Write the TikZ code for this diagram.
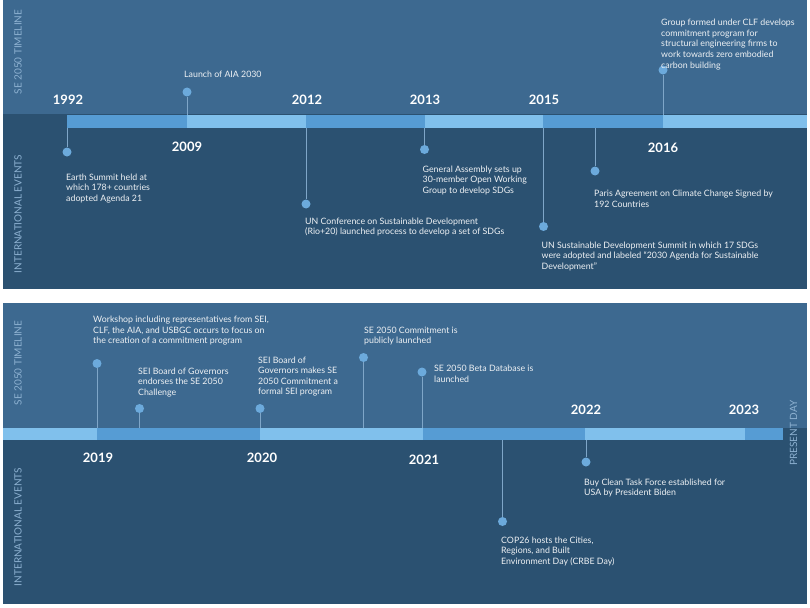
\documentclass[tikz,border=0pt]{standalone}
\usepackage{fontspec}
\setmainfont{Lato}

% panel and bar colours
\definecolor{upperblue}{HTML}{3D6990}
\definecolor{lowerblue}{HTML}{2B5171}
\definecolor{barlight}{HTML}{80C0EC}
\definecolor{barmid}{HTML}{569CD4}
\definecolor{dotblue}{HTML}{6CAADC}
\definecolor{stemblue}{HTML}{7FA6C8}
\definecolor{sidegrey}{HTML}{8DB1D1}
\definecolor{eventwhite}{HTML}{EEF1F4}

\begin{document}
\begin{tikzpicture}[x=1pt, y=-1pt,
    dot/.style={circle, fill=dotblue, inner sep=0pt, minimum size=9pt},
    stem/.style={draw=stemblue, line width=0.6pt},
    event/.style={anchor=north west, inner sep=0pt, align=left, text=eventwhite,
        font=\fontsize{8.8}{10.6}\selectfont},
    year/.style={inner sep=0pt, text=white, font=\fontsize{13}{13}\selectfont\bfseries},
    side/.style={rotate=90, inner sep=0pt, text=sidegrey, font=\fontsize{10}{10}\selectfont}]

    % 1. Page and the two panels
    \useasboundingbox (0,0) rectangle (810,607);
    \fill[white] (0,0) rectangle (810,607);
    \fill[upperblue] (3,0) rectangle (807,114);
    \fill[lowerblue] (3,114) rectangle (807,289);
    \fill[upperblue] (3,303) rectangle (807,428);
    \fill[lowerblue] (3,428) rectangle (807,604);

    % 2. Timeline bars, shaded in alternating blocks
    \fill[barmid]   (67,115)  rectangle (187,128);
    \fill[barlight] (187,115) rectangle (306,128);
    \fill[barmid]   (306,115) rectangle (425,128);
    \fill[barlight] (425,115) rectangle (543,128);
    \fill[barmid]   (543,115) rectangle (663,128);
    \fill[barlight] (663,115) rectangle (807,128);

    \fill[barlight] (3,428)   rectangle (97,440);
    \fill[barmid]   (97,428)  rectangle (260,440);
    \fill[barlight] (260,428) rectangle (423,440);
    \fill[barmid]   (423,428) rectangle (585,440);
    \fill[barlight] (585,428) rectangle (745,440);
    \fill[barmid]   (745,428) rectangle (783,440);

    % 3. Row labels
    \node[side] (topSE)  at (18,52)  {SE 2050 TIMELINE};
    \node[side] (topINT) at (18,214) {INTERNATIONAL EVENTS};
    \node[side] (botSE)  at (18,363) {SE 2050 TIMELINE};
    \node[side] (botINT) at (18,527) {INTERNATIONAL EVENTS};
    \node[side] (present) at (793.5,433) {PRESENT DAY};

    % 4. Years
    \node[year] (y1992) at (68,100)  {1992};
    \node[year] (y2009) at (187,147) {2009};
    \node[year] (y2012) at (307,100) {2012};
    \node[year] (y2013) at (425,100) {2013};
    \node[year] (y2015) at (544,100) {2015};
    \node[year] (y2016) at (663,148) {2016};
    \node[year] (y2019) at (98,458)  {2019};
    \node[year] (y2020) at (262,458) {2020};
    \node[year] (y2021) at (424,460) {2021};
    \node[year] (y2022) at (586,410) {2022};
    \node[year] (y2023) at (744,410) {2023};

    % 5. Events of the first panel
    \coordinate (Bsummit) at (67,128);
    \node[dot] (Dsummit) at (67,152) {};
    \draw[stem] (Bsummit) -- (Dsummit);
    \node[event] (Tsummit) at (66,173.5) {Earth Summit held at\\which 178+ countries\\adopted Agenda 21};

    \coordinate (Baia) at (187,115);
    \node[dot] (Daia) at (187,92) {};
    \draw[stem] (Baia) -- (Daia);
    \node[event] (Taia) at (184,70.5) {Launch of AIA 2030};

    \coordinate (Brio) at (306,128);
    \node[dot] (Drio) at (306,204) {};
    \draw[stem] (Brio) -- (Drio);
    \node[event] (Trio) at (305,217.5) {UN Conference on Sustainable Development\\(Rio+20) launched process to develop a set of SDGs};

    \coordinate (Bowg) at (424.5,128);
    \node[dot] (Dowg) at (424.5,149.5) {};
    \draw[stem] (Bowg) -- (Dowg);
    \node[event] (Towg) at (422.5,165.5) {General Assembly sets up\\30-member Open Working\\Group to develop SDGs};

    \coordinate (Bsdg) at (543.5,128);
    \node[dot] (Dsdg) at (543.5,226.5) {};
    \draw[stem] (Bsdg) -- (Dsdg);
    \node[event] (Tsdg) at (541.5,241.5) {UN Sustainable Development Summit in which 17 SDGs\\were adopted and labeled ``2030 Agenda for Sustainable\\Development''};

    \coordinate (Bparis) at (595,128);
    \node[dot] (Dparis) at (595,171) {};
    \draw[stem] (Bparis) -- (Dparis);
    \node[event] (Tparis) at (594,190) {Paris Agreement on Climate Change Signed by\\192 Countries};

    \coordinate (Bclf) at (663,115);
    \node[dot] (Dclf) at (663,70) {};
    \draw[stem] (Bclf) -- (Dclf);
    \node[event] (Tclf) at (661,19) {Group formed under CLF develops\\commitment program for\\structural engineering firms to\\work towards zero embodied\\carbon building};

    % 6. Events of the second panel
    \coordinate (Bwork) at (97,428);
    \node[dot] (Dwork) at (97,363.5) {};
    \draw[stem] (Bwork) -- (Dwork);
    \node[event] (Twork) at (93,316) {Workshop including representatives from SEI,\\CLF, the AIA, and USBGC occurs to focus on\\the creation of a commitment program};

    \coordinate (Bendorse) at (139.5,428);
    \node[dot] (Dendorse) at (139.5,408.5) {};
    \draw[stem] (Bendorse) -- (Dendorse);
    \node[event] (Tendorse) at (138,367.5) {SEI Board of Governors\\endorses the SE 2050\\Challenge};

    \coordinate (Bformal) at (260,428);
    \node[dot] (Dformal) at (260,408.5) {};
    \draw[stem] (Bformal) -- (Dformal);
    \node[event] (Tformal) at (258,356.5) {SEI Board of\\Governors makes SE\\2050 Commitment a\\formal SEI program};

    \coordinate (Bpublic) at (363.5,428);
    \node[dot] (Dpublic) at (363.5,357.5) {};
    \draw[stem] (Bpublic) -- (Dpublic);
    \node[event] (Tpublic) at (364,326.5) {SE 2050 Commitment is\\publicly launched};

    \coordinate (Bbeta) at (422,428);
    \node[dot] (Dbeta) at (422,372) {};
    \draw[stem] (Bbeta) -- (Dbeta);
    \node[event] (Tbeta) at (434,365) {SE 2050 Beta Database is\\launched};

    \coordinate (Bcop) at (502.5,440);
    \node[dot] (Dcop) at (502.5,521.5) {};
    \draw[stem] (Bcop) -- (Dcop);
    \node[event] (Tcop) at (501,536.5) {COP26 hosts the Cities,\\Regions, and Built\\Environment Day (CRBE Day)};

    \coordinate (Bclean) at (586,440);
    \node[dot] (Dclean) at (586,462) {};
    \draw[stem] (Bclean) -- (Dclean);
    \node[event] (Tclean) at (584,478.5) {Buy Clean Task Force established for\\USA by President Biden};

\end{tikzpicture}
\end{document}
